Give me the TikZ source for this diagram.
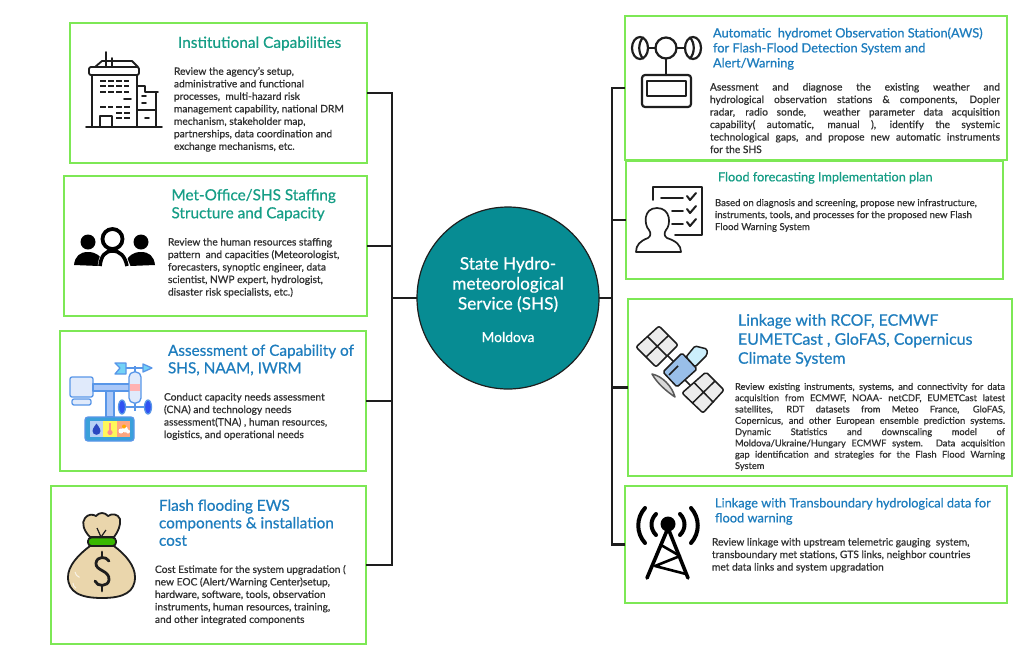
\documentclass[tikz,border=0pt]{standalone}
\usepackage{fontspec}
\setmainfont{Lato}[FakeBold=0.6]
\definecolor{boxgreen}{RGB}{125,232,85}
\definecolor{titleteal}{RGB}{22,158,134}
\definecolor{titleblue}{RGB}{30,125,190}
\definecolor{bodyink}{RGB}{48,48,48}
\definecolor{hub}{RGB}{7,140,147}
\definecolor{ink}{RGB}{30,30,30}
\definecolor{iblue}{RGB}{88,150,232}
\definecolor{ipale}{RGB}{224,234,251}
\definecolor{imid}{RGB}{170,200,248}
\definecolor{bag}{RGB}{234,214,172}
\newcommand{\jl}[2]{\makebox[#1pt][s]{#2}}
\tikzset{
 card/.style={draw=boxgreen,line width=1.3pt,fill=none,inner sep=0,outer sep=0},
 link/.style={draw=ink,line width=2.4pt,line join=miter},
 head/.style 2 args={inner sep=0,outer sep=0,anchor=north west,align=left,font=\fontsize{#1}{#2}\selectfont},
 bodytxt/.style 2 args={inner sep=0,outer sep=0,anchor=north west,align=left,text=bodyink,font=\fontsize{#1}{#2}\selectfont},
 icon/.style={draw=ink,line width=2.2pt,line join=round,line cap=round},
}
\begin{document}
\begin{tikzpicture}[x=1pt,y=-1pt]
\useasboundingbox[fill=white] (0,0) rectangle (1024,662);
% boxes
\node[card,minimum width=297,minimum height=140] (b1) at (218.5,93) {};
\node[card,minimum width=303,minimum height=140] (b2) at (215.5,246) {};
\node[card,minimum width=306,minimum height=140] (b3) at (213,401) {};
\node[card,minimum width=315,minimum height=158] (b4) at (208.5,565) {};
\node[card,minimum width=382,minimum height=144] (b5) at (816,88) {};
\node[card,minimum width=377,minimum height=118] (b6) at (814.5,220) {};
\node[card,minimum width=384,minimum height=177] (b7) at (820,387.5) {};
\node[card,minimum width=382,minimum height=117] (b8) at (816,544.5) {};
% hub
\node[circle,draw=ink,line width=1.2pt,fill=hub,minimum size=182,inner sep=0,outer sep=0] (hubn) at (508,298) {};
\node[text=white,align=center,inner sep=0,font=\fontsize{17.2}{20}\selectfont] (hubt) at (508,284.5) {State Hydro-\\meteorological\\Service (SHS)};
\node[text=white,inner sep=0,font=\fontsize{13.8}{14}\selectfont] (hubm) at (508,337) {Moldova};
% connectors
\coordinate (tl) at (392,298);
\coordinate (tr) at (612,298);
\draw[link] (hubn.west) -- (tl);
\draw[link] (hubn.east) -- (tr);
\draw[link] (tl) |- (b1.east);
\draw[link] (tl) |- (b2.east);
\draw[link] (tl) |- (b3.east);
\draw[link] (tl) |- (b4.east);
\draw[link] (tr) |- (b5.west);
\draw[link] (tr) |- (b6.west);
\draw[link] (tr) |- (b7.west);
\draw[link] (tr) |- (b8.west);
% titles
\node[head={15.4}{18},text=titleteal] (h1) at (178,36.5) {Institutional Capabilities};
\node[head={15.3}{18},text=titleteal] (h2) at (171.5,189) {Met-Office/SHS Staffing\\Structure and Capacity};
\node[head={15.3}{17.5},text=titleblue] (h3) at (168,344.5) {Assessment of Capability of\\SHS, NAAM, IWRM};
\node[head={15.3}{17.5},text=titleblue] (h4) at (159,499.5) {Flash flooding EWS\\components \& installation\\cost};
\node[head={12.8}{15},text=titleblue] (h5) at (713,27.5) {Automatic\ \ hydromet Observation Station(AWS)\\for Flash-Flood Detection System and\\Alert/Warning};
\node[head={12.7}{15},text=titleteal] (h6) at (718,172) {Flood forecasting Implementation plan};
\node[head={15.9}{19},text=titleblue] (h7) at (738,314) {Linkage with RCOF, ECMWF\\EUMETCast , GloFAS, Copernicus\\Climate System};
\node[head={12.8}{15},text=titleblue] (h8) at (715,498) {Linkage with Transboundary hydrological data for\\flood warning};
% bodies
\node[bodytxt={10.2}{12.5}] (t1) at (174,67) {Review the agency's setup,\\administrative and functional\\processes,\ \ multi-hazard risk\\management capability, national DRM\\mechanism, stakeholder map,\\partnerships, data coordination and\\exchange mechanisms, etc.};
\node[bodytxt={10.2}{12.5}] (t2) at (168,238) {Review the human resources staffing\\pattern\ \ and capacities (Meteorologist,\\forecasters, synoptic engineer, data\\scientist, NWP expert, hydrologist,\\disaster risk specialists, etc.)};
\node[bodytxt={10.2}{12.5}] (t3) at (164,393) {Conduct capacity needs assessment\\(CNA) and technology needs\\assessment(TNA) , human resources,\\logistics, and operational needs};
\node[bodytxt={10.2}{12.5}] (t4) at (155,565) {Cost Estimate for the system upgradation (\\new EOC (Alert/Warning Center)setup,\\hardware, software, tools, observation\\instruments, human resources, training,\\and other integrated components};
\node[bodytxt={10.2}{12.5}] (t5) at (710,83) {\jl{290}{Asessment and diagnose the existing weather and}\\\jl{290}{hydrological observation stations \& components, Dopler}\\\jl{290}{radar, radio sonde,\ \ weather parameter data acquisition}\\\jl{290}{capability( automatic, manual ), identify the systemic}\\\jl{290}{technological gaps, and propose new automatic instruments}\\for the SHS};
\node[bodytxt={9.6}{12}] (t6) at (715,199) {Based on diagnosis and screening, propose new infrastructure,\\instruments, tools, and processes for the proposed new Flash\\Flood Warning System};
\node[bodytxt={9.3}{11.3}] (t7) at (735,383) {\jl{270}{Review existing instruments, systems, and connectivity for data}\\\jl{270}{acquisition from ECMWF, NOAA- netCDF, EUMETCast latest}\\\jl{270}{satellites, RDT datasets from Meteo France, GloFAS,}\\\jl{270}{Copernicus, and other European ensemble prediction systems.}\\\jl{270}{Dynamic Statistics and downscaling model of}\\\jl{270}{Moldova/Ukraine/Hungary ECMWF system. Data acquisition}\\\jl{270}{gap identification and strategies for the Flash Flood Warning}\\System};
\node[bodytxt={10.2}{12.5}] (t8) at (712,538) {Review linkage with upstream telemetric gauging\ \ system,\\transboundary met stations, GTS links, neighbor countries\\met data links and system upgradation};
% --- icon 1: building
\begin{scope}[icon,line width=1.8pt]
\draw (95,67) -- (102,61) -- (132,61) -- (138,67);
\draw[rounded corners=2pt] (89,67) rectangle (139,75);
\draw (106,52) -- (106,67) (112,58) -- (112,67);
\draw (92,75) -- (92,127) (137,75) -- (137,127);
\draw (86,127) -- (162,127);
\draw (137,86) -- (145,86) -- (145,92) -- (158,92) (156,92) -- (156,127) (137,110) -- (156,110);
\draw (100,127) -- (100,116) -- (112,116) -- (112,127);
\foreach \yy in {81,86,92} {\draw[line width=1.6pt,line cap=butt,dash pattern=on 6pt off 2pt] (100,\yy) -- (129,\yy);}
\draw (124,99) -- (131,99);
\draw[line width=1.6pt,line cap=butt,dash pattern=on 6pt off 2pt] (100,107) -- (113,107);
\foreach \yy in {107,113,118} {\draw[line width=1.6pt,line cap=butt,dash pattern=on 6pt off 2pt] (116,\yy) -- (130,\yy);}
\draw (142,96) -- (146,96) (142,103) -- (146,103) (145,118) -- (149,118);
\end{scope}
% --- icon 2: people
\fill[black] (88,242) circle (7.5) (141,242) circle (7.5);
\fill[black] (74,265) .. controls (75,256) and (80,252) .. (88,252) .. controls (96,252) and (101,256) .. (103,262) -- (99,266) -- cycle;
\fill[black] (155,265) .. controls (154,256) and (149,252) .. (141,252) .. controls (133,252) and (128,256) .. (126,262) -- (130,266) -- cycle;
\draw[white,line width=6.5pt] (101,269) .. controls (101,257) and (105,252) .. (112.5,252) .. controls (120,252) and (124,257) .. (128,269);
\draw[black,line width=3.6pt] (100,266) .. controls (101,256) and (105,251) .. (112.5,251) .. controls (120,251) and (125,256) .. (127,266);
\draw[black,line width=3.8pt] (112.5,239) circle (10);
% --- icon 3: weather instrument
\begin{scope}[draw=iblue,line width=1.3pt,line join=round]
\draw[fill=ipale,rounded corners=2pt] (72,399) rectangle (91,405);
\draw[fill=ipale,rounded corners=2pt] (70,377) rectangle (93,397);
\draw[fill=imid] (106,391) rectangle (114,417);
\draw[fill=imid] (93,384) rectangle (130,391);
\draw[line width=1.6pt] (135,366) -- (135,372) (135,403) -- (135,411);
\draw[line width=1.6pt] (126,368) -- (144,368);
\draw[fill=ipale,rounded corners=5pt] (129,372) rectangle (141,403);
\fill[red!30!white] (129.6,384) rectangle (140.4,391);
\draw[fill=cyan!55!white] (115,363) -- (126,363) -- (126,374) -- (115,374) -- (120,368) -- cycle;
\draw[fill=cyan!55!white] (143,364) -- (152,368) -- (143,372) -- cycle;
\draw[line width=2pt] (124,407) -- (146,407);
\draw[fill=blue!45!iblue] (122,407) ellipse (3.5 and 7);
\draw[fill=blue!45!iblue] (148,407) ellipse (3.5 and 7);
\draw[fill=cyan!50!iblue,rounded corners=3pt] (85,417) rectangle (134,441);
\fill[ipale!70!iblue] (90,421) rectangle (103,437);
\fill[yellow!65!white] (103,421) rectangle (117,437);
\fill[red!40!orange!50!white] (117,421) rectangle (130,437);
\fill[blue!40!iblue!80!black] (96.5,423.5) .. controls (93,428) and (92.5,430) .. (92.5,431) .. controls (92.5,436) and (100.5,436) .. (100.5,431) .. controls (100.5,430) and (100,428) .. (96.5,423.5) -- cycle;
\fill[red!45!white] (110,432.5) circle (2.6);
\fill[red!45!white] (108.8,423) rectangle (111.2,432);
\fill[white] (121,431) circle (2.5) (125,429.5) circle (3) (128,431.5) circle (2);
\fill[orange!70!yellow] (124,426.5) circle (2);
\end{scope}
% --- icon 4: money bag
\begin{scope}[draw=ink,line width=1.8pt,line join=round]
\draw[fill=bag] (90,546) .. controls (78,555) and (68,566) .. (68,577) .. controls (68,592) and (80,598) .. (102,598) .. controls (124,598) and (135,592) .. (135,577) .. controls (135,566) and (126,555) .. (114,546) -- cycle;
\draw[fill=bag] (90,537) .. controls (84,531) and (81,523) .. (85,518) .. controls (88,514) and (93,514) .. (96,516) .. controls (99,512) and (105,512) .. (108,516) .. controls (112,513) and (118,514) .. (120,519) .. controls (121,525) and (118,532) .. (114,537) -- cycle;
\draw[line width=1.2pt] (97,528) -- (101,537) -- (106,530);
\draw[fill=green!60!black!70!lime,rounded corners=3.5pt] (88,537.5) rectangle (116,546);
\draw[line width=2.8pt,line cap=round] (109,561) .. controls (106,556) and (97,556) .. (96,563) .. controls (95,571) and (110,570) .. (109,580) .. controls (108,587) and (97,587) .. (95,581);
\draw[line width=2.8pt,line cap=round] (102,552) -- (102,556.5) (102,586.5) -- (102,591);
\end{scope}
\draw[white!70!bag,line width=1pt] (75,572) arc (170:110:7) (73,583) arc (180:120:6);
% --- icon 5: anemometer
\begin{scope}[icon]
\draw (666,48) circle (10.5);
\draw (640,48) ellipse (8 and 11) (693,48) ellipse (8 and 11);
\draw (643,37.5) .. controls (638,43) and (638,53) .. (643,58.5);
\draw (690,37.5) .. controls (695,43) and (695,53) .. (690,58.5);
\draw (648,48) -- (655.5,48) (676.5,48) -- (685,48);
\draw (666,58.5) -- (666,75);
\draw[rounded corners=3pt] (642,75) rectangle (691,107);
\draw[line width=2pt] (647,81) rectangle (686,96);
\end{scope}
% --- icon 6: plan
\begin{scope}[icon,line width=1.7pt]
\draw (653,200) -- (653,187) -- (702,187) -- (702,235) -- (675,235);
\draw (661,198) -- (683,198) (672,211) -- (683,211) (672,224) -- (683,224);
\draw[line width=2pt] (687,196) -- (690,200) -- (696,193);
\draw[line width=2pt] (687,209) -- (690,213) -- (696,206);
\draw[line width=2pt] (687,222) -- (690,226) -- (696,219);
\draw[fill=white] (636,252) -- (681,252) .. controls (681,245) and (676,241) .. (667,238) .. controls (664,236) and (664,233) .. (666,230) .. controls (671,225) and (671,208) .. (657,208) .. controls (643,208) and (644,225) .. (649,230) .. controls (651,233) and (651,236) .. (648,238) .. controls (640,241) and (636,245) .. (636,252) -- cycle;
\end{scope}
% --- icon 7: satellite
\begin{scope}[draw=ink,line width=1.5pt,line join=round]
\draw (674,362) -- (666,354) (683,378) -- (692,387);
\draw[fill=gray!15,rounded corners=2pt] (659,326) -- (678,345) -- (656,367) -- (636,347) -- cycle;
\draw (647.5,336.5) -- (667,356) (668.5,335.5) -- (646,357);
\draw[fill=gray!15,rounded corners=2pt] (706,372) -- (724,390) -- (703,413) -- (682,393) -- cycle;
\draw (694,382.5) -- (713.5,402.5) (715,381) -- (692.5,403);
\draw[fill=cyan!20!white,rounded corners=1.5pt] (686,357) -- (695,346) -- (707,349) -- (707,355) -- (695,367) -- cycle;
\draw[fill=cyan!30!white!85!blue,rounded corners=1.5pt] (682,353) -- (697,369) -- (677,387) -- (663,372) -- cycle;
\draw (678,366) -- (669,375);
\draw[fill=gray!30,draw=gray!70!black] (652,374) .. controls (662,376) and (672,386) .. (675,397) .. controls (666,391) and (657,383) .. (652,374) -- cycle;
\end{scope}
% --- icon 8: tower
\begin{scope}[draw=black,line width=3.6pt,line cap=round,line join=round]
\fill[black] (668,524) circle (7.5);
\draw (668,528) -- (647,578) (668,528) -- (688,578);
\draw[line width=2.6pt] (661,545) -- (680,556) -- (655,566) -- (686,574);
\draw[line width=4pt] (645,508) .. controls (636,518) and (636,533) .. (645,543);
\draw[line width=4pt] (691,508) .. controls (700,518) and (700,533) .. (691,543);
\draw[line width=4pt] (656,514) .. controls (650,520) and (650,529) .. (656,535);
\draw[line width=4pt] (680,514) .. controls (686,520) and (686,529) .. (680,535);
\end{scope}
\end{tikzpicture}
\end{document}
